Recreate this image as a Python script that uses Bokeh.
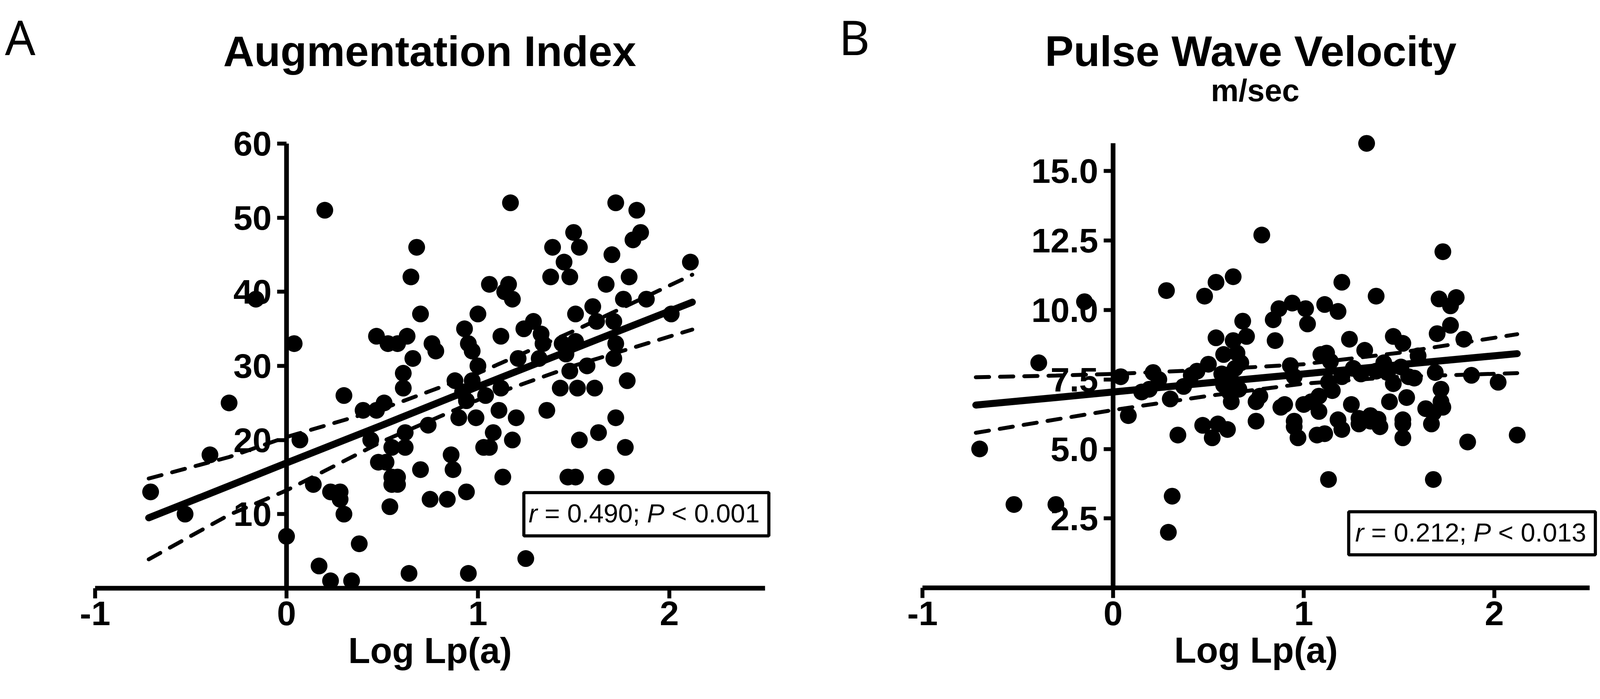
from bokeh.plotting import figure
from bokeh.layouts import row
from bokeh.models import Range1d, FixedTicker, PrintfTickFormatter, Label, BoxAnnotation
from bokeh.embed import file_html
from bokeh.resources import INLINE

# ---------------- data ----------------
aug_x = [-0.71, -0.53, -0.40, -0.30, -0.16, 0.00, 0.04, 0.07, 0.14, 0.17,
         0.20, 0.23, 0.23, 0.28, 0.28, 0.30, 0.30, 0.34, 0.38, 0.40,
         0.44, 0.47, 0.47, 0.48, 0.51, 0.52, 0.53, 0.54, 0.55, 0.55,
         0.58, 0.55, 0.58, 0.58, 0.62, 0.62, 0.61, 0.61, 0.63, 0.64,
         0.65, 0.66, 0.68, 0.70, 0.70, 0.74, 0.75, 0.76, 0.78, 0.84,
         0.86, 0.87, 0.88, 0.90, 0.93, 0.94, 0.95, 0.95, 0.97, 0.99,
         1.00, 1.00, 0.97, 0.94, 1.04, 0.92, 1.03, 1.06, 1.08, 1.06,
         1.11, 1.12, 1.12, 1.13, 1.14, 1.16, 1.17, 1.18, 1.18, 1.20,
         1.21, 1.24, 1.25, 1.29, 1.32, 1.33, 1.34, 1.36, 1.38, 1.39,
         1.43, 1.44, 1.45, 1.46, 1.47, 1.48, 1.48, 1.50, 1.51, 1.51,
         1.51, 1.52, 1.53, 1.53, 1.57, 1.60, 1.61, 1.62, 1.63, 1.67,
         1.67, 1.70, 1.71, 1.72, 1.72, 1.71, 1.72, 1.76, 1.77, 1.78,
         1.79, 1.81, 1.83, 1.85, 1.88, 2.01, 2.11]
aug_y = [13.0, 10.0, 18.0, 25.0, 39.0, 7.0, 33.0, 20.0, 14.0, 3.0,
         51.0, 13.0, 1.0, 13.0, 12.0, 10.0, 26.0, 1.0, 6.0, 24.0,
         20.0, 24.0, 34.0, 17.0, 25.0, 17.0, 33.0, 11.0, 19.0, 15.0,
         15.0, 14.0, 14.0, 33.0, 21.0, 19.0, 29.0, 27.0, 34.0, 2.0,
         42.0, 31.0, 46.0, 16.0, 37.0, 22.0, 12.0, 33.0, 32.0, 12.0,
         18.0, 16.0, 28.0, 23.0, 35.0, 13.0, 33.0, 2.0, 32.0, 23.0,
         37.0, 30.0, 28.0, 25.3, 26.0, 26.5, 19.0, 19.0, 21.0, 41.0,
         24.0, 27.0, 34.0, 15.0, 40.0, 41.0, 52.0, 39.0, 20.0, 23.0,
         31.0, 35.0, 4.0, 36.0, 31.0, 34.3, 33.0, 24.0, 42.0, 46.0,
         27.0, 33.0, 44.0, 31.6, 15.0, 42.0, 29.3, 48.0, 37.0, 33.3,
         15.0, 27.0, 46.0, 20.0, 30.0, 38.0, 27.0, 36.0, 21.0, 41.0,
         15.0, 45.0, 36.0, 52.0, 33.0, 31.0, 23.0, 39.0, 19.0, 28.0,
         42.0, 47.0, 51.0, 48.0, 39.0, 37.0, 44.0]

pwv_x = [-0.70, -0.52, -0.30, -0.39, -0.15,
         0.04, 0.08, 0.15, 0.19, 0.21, 0.24, 0.28, 0.30, 0.29, 0.31, 0.34, 0.37,
         0.41, 0.44, 0.47, 0.48, 0.50, 0.52, 0.54, 0.54, 0.55, 0.57, 0.58, 0.58,
         0.60, 0.61, 0.62, 0.62, 0.63, 0.63, 0.64, 0.65, 0.66, 0.67, 0.68, 0.70,
         0.75, 0.75, 0.77, 0.78, 0.84, 0.85, 0.87, 0.88, 0.90, 0.93, 0.94, 0.95,
         0.95, 0.95, 0.97, 1.00, 1.01, 1.02,
         1.04, 1.07, 1.08, 1.08, 1.09, 1.11, 1.12, 1.13, 1.13, 1.14, 1.15, 1.11,
         1.18, 1.18, 1.20, 1.20, 1.20, 1.24, 1.25, 1.26, 1.29, 1.29, 1.32, 1.30,
         1.33, 1.35, 1.35, 1.38, 1.38, 1.40, 1.39, 1.42, 1.44, 1.45, 1.47, 1.47,
         1.51, 1.52, 1.52, 1.52, 1.52, 1.54, 1.55, 1.58, 1.60,
         1.64, 1.67, 1.68, 1.68, 1.69, 1.70, 1.71, 1.72, 1.72, 1.73, 1.73, 1.77,
         1.77, 1.80, 1.84, 1.86, 1.88, 2.02, 2.12]
pwv_y = [5.0, 3.0, 3.0, 8.1, 10.3,
         7.6, 6.2, 7.05, 7.15, 7.75, 7.5, 10.7, 6.8, 2.0, 3.3, 5.5, 7.25,
         7.65, 7.8, 5.85, 10.5, 8.05, 5.4, 11.0, 9.0, 5.9, 7.7, 8.4, 7.3,
         5.7, 7.05, 6.7, 7.45, 8.9, 11.2, 7.9, 8.45, 7.15, 8.1, 9.6, 9.05,
         6.7, 6.0, 6.9, 12.7, 9.65, 8.9, 10.05, 6.5, 6.6, 8.0, 10.25, 7.6,
         5.8, 6.0, 5.4, 6.6, 10.05, 9.5,
         6.7, 5.5, 6.35, 6.9, 8.4, 10.2, 8.45, 3.9, 7.4, 8.15, 7.1, 5.55,
         9.95, 6.05, 11.0, 5.7, 7.6, 8.95, 6.6, 7.9, 5.9, 6.1, 8.55, 7.7,
         16.0, 6.0, 6.2, 10.5, 7.8, 5.8, 6.07, 8.1, 7.75, 6.7, 9.05, 7.35,
         7.95, 8.8, 5.9, 5.4, 6.05, 6.85, 7.6, 7.55, 8.35,
         6.45, 5.9, 6.3, 3.9, 7.75, 9.15, 10.4, 7.15, 6.7, 12.1, 6.5, 10.15,
         9.45, 10.45, 8.95, 5.25, 7.65, 7.4, 5.5]

# regression line and 95% band, read at a few x positions
fit_x = [-0.72, -0.30, 0.00, 0.50, 1.00, 1.50, 2.12]
aug_fit = [9.5, 13.8, 16.9, 22.0, 27.2, 32.3, 38.6]
aug_upper = [14.8, 17.7, 20.4, 24.2, 29.0, 34.7, 42.3]
aug_lower = [3.9, 9.9, 13.2, 19.8, 25.4, 30.0, 34.9]
pwv_fit = [6.58, 6.85, 7.05, 7.38, 7.70, 8.03, 8.43]
pwv_upper = [7.58, 7.64, 7.70, 7.85, 8.05, 8.46, 9.13]
pwv_lower = [5.58, 6.06, 6.40, 6.91, 7.35, 7.60, 7.73]

x_ticks = [-1, 0, 1, 2]
x_tick_labels = {-1: "-1", 0: "0", 1: "1", 2: "2"}
aug_y_ticks = [10, 20, 30, 40, 50, 60]
pwv_y_ticks = [2.5, 5.0, 7.5, 10.0, 12.5, 15.0]

aug_stats = ["r", "= 0.490;", "P", "< 0.001"]
pwv_stats = ["r", "= 0.212;", "P", "< 0.013"]

FONT = "Liberation Sans"
FIG_W, FIG_H = 2060, 1773


def make_panel(xs, ys, fit, up, lo, x_rng, y_rng, y_top, y_ticks, y_fmt,
               box, stats_xy, stats):
    p = figure(frame_width=FIG_W, frame_height=FIG_H,
               x_range=Range1d(*x_rng), y_range=Range1d(*y_rng),
               output_backend="svg", toolbar_location=None,
               min_border=0, min_border_left=0, min_border_right=0,
               min_border_top=0, min_border_bottom=0,
               background_fill_color="white", border_fill_color="white")
    p.outline_line_color = None
    p.grid.visible = False

    xa = p.xaxis[0]
    xa.fixed_location = 0
    xa.ticker = FixedTicker(ticks=x_ticks)
    xa.major_label_overrides = x_tick_labels
    xa.bounds = (-1, 2.5)
    xa.axis_line_width = 12
    xa.major_tick_line_width = 10
    xa.major_tick_out = 26
    xa.major_tick_in = 0
    xa.minor_tick_line_color = None
    xa.major_label_standoff = 8
    xa.major_label_text_font = FONT
    xa.major_label_text_font_style = "bold"
    xa.major_label_text_font_size = "88px"
    xa.major_label_text_color = "black"
    xa.axis_label = "Log Lp(a)"
    xa.axis_label_text_font = FONT
    xa.axis_label_text_font_style = "bold"
    xa.axis_label_text_font_size = "92px"
    xa.axis_label_standoff = 10
    xa.axis_label_text_color = "black"

    ya = p.yaxis[0]
    ya.fixed_location = 0
    ya.level = "underlay"
    ya.ticker = FixedTicker(ticks=y_ticks)
    if y_fmt is not None:
        ya.formatter = y_fmt
    ya.bounds = (0, y_top)
    ya.axis_line_width = 12
    ya.major_tick_line_width = 10
    ya.major_tick_out = 24
    ya.major_tick_in = 0
    ya.minor_tick_line_color = None
    ya.major_label_standoff = 14
    ya.major_label_text_font = FONT
    ya.major_label_text_font_style = "bold"
    ya.major_label_text_font_size = "88px"
    ya.major_label_text_color = "black"

    p.scatter(xs, ys, size=43, color="black", line_color=None)
    p.line(fit_x, up, line_width=10, line_dash="34 28", line_cap="round", color="black")
    p.line(fit_x, lo, line_width=10, line_dash="34 28", line_cap="round", color="black")
    p.line(fit_x, fit, line_width=18, line_cap="round", color="black")

    p.add_layout(BoxAnnotation(left=box[0], right=box[1], bottom=box[2], top=box[3],
                               fill_color="white", fill_alpha=1.0,
                               line_color="black", line_alpha=1.0, line_width=8))
    offsets = [0, 41, 303, 366]
    styles = ["italic", "normal", "italic", "normal"]
    for txt, off, st in zip(stats, offsets, styles):
        p.add_layout(Label(x=stats_xy[0], y=stats_xy[1], x_offset=off, text=txt,
                           text_font=FONT, text_font_size="67px", text_font_style=st,
                           text_baseline="alphabetic", text_align="left",
                           text_color="black"))
    return p


def add_text(p, x, y, txt, size, style, font=FONT, align="center"):
    p.add_layout(Label(x=x, y=y, text=txt, text_font=font, text_font_size=size,
                       text_font_style=style, text_baseline="alphabetic",
                       text_align=align, text_color="black"))


pA = make_panel(aug_x, aug_y, aug_fit, aug_upper, aug_lower,
                (-1.4959, 2.7082), (-14.128, 79.336), 60, aug_y_ticks, None,
                (1.24, 2.52, 7.06, 12.9), (1.265, 10.12), aug_stats)
add_text(pA, -1.471, 74.43, "A", "122px", "normal", font="Noto Sans", align="left")
add_text(pA, 0.748, 72.48, "Augmentation Index", "110px", "bold")

pB = make_panel(pwv_x, pwv_y, pwv_fit, pwv_upper, pwv_lower,
                (-1.6168, 2.6045), (-3.783, 21.153), 16, pwv_y_ticks,
                PrintfTickFormatter(format="%.1f"),
                (1.236, 2.53, 1.19, 2.74), (1.27, 2.003), pwv_stats)
add_text(pB, -1.4385, 19.845, "B", "122px", "normal", font="Noto Sans", align="left")
add_text(pB, 0.722, 19.325, "Pulse Wave Velocity", "110px", "bold")
add_text(pB, 0.745, 17.90, "m/sec", "80px", "bold")

layout = row(pA, pB)
open("out.html", "w").write(file_html(layout, INLINE))
